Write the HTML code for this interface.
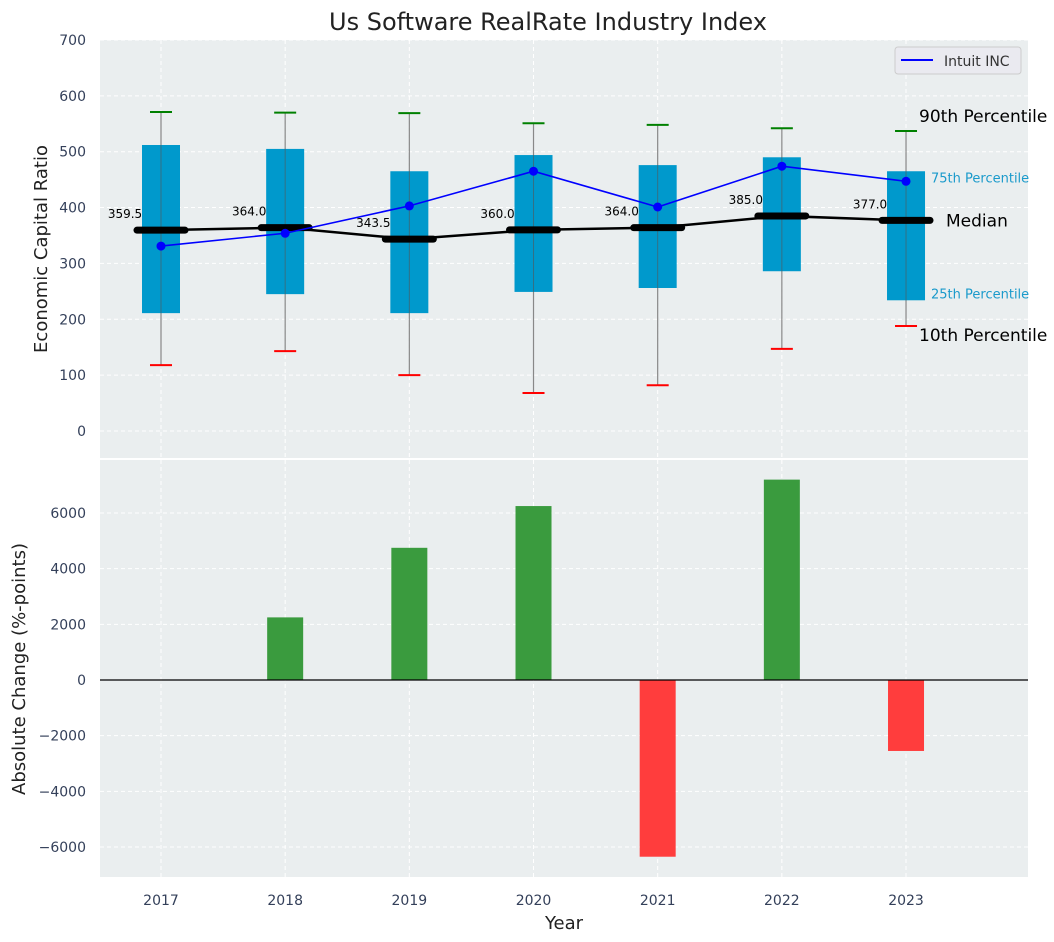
<!DOCTYPE html>
<html><head><meta charset="utf-8"><style>
body{margin:0;background:#fff;}
svg{display:block;font-family:"DejaVu Sans","Liberation Sans",sans-serif;}
</style></head><body>
<svg id="c" width="1054" height="942"></svg>
<script>
const years=[2017,2018,2019,2020,2021,2022,2023];
const p10=[118,143,100,68,82,147,188];
const p25=[211,245,211,249,256,286,234];
const medians=[359.5,364,343.5,360,364,385,377];
const p75=[512,505,465,494,476,490,465];
const p90=[571,570,569,551,548,542,537];
const intuit=[331,354,403,465,401,474,447];
const changes=[0,2250,4750,6250,-6350,7200,-2550];
const topTicks=[0,100,200,300,400,500,600,700];
const botTicks=[-6000,-4000,-2000,0,2000,4000,6000];

const svg=document.getElementById('c');
const NS='http://www.w3.org/2000/svg';
function mk(t,a,p){const e=document.createElementNS(NS,t);for(const k in a)e.setAttribute(k,a[k]);(p||svg).appendChild(e);return e;}
const L=100,R=1028;
const x=v=>161+(v-2017)*124.17;
const yT=v=>431-v*0.5586;
const yB=v=>680-v*0.02783;
const TC='#34405a';

let e=mk('rect',{x:L,y:40,width:R-L,height:418,fill:'#eaeeef'});

e=mk('rect',{x:L,y:460,width:R-L,height:417,fill:'#eaeeef'});


years.forEach(yr=>{
 mk('line',{x1:x(yr),x2:x(yr),y1:40,y2:458,stroke:'#fff','stroke-dasharray':'4,3'});
 mk('line',{x1:x(yr),x2:x(yr),y1:460,y2:877,stroke:'#fff','stroke-dasharray':'4,3'});
 e=mk('text',{x:x(yr),y:905,'text-anchor':'middle','font-size':14,fill:TC});e.textContent=yr;
 
});
topTicks.forEach(t=>{
 mk('line',{x1:L,x2:R,y1:yT(t),y2:yT(t),stroke:'#fff','stroke-dasharray':'4,3'});
 e=mk('text',{x:86,y:yT(t)+5,'text-anchor':'end','font-size':14,fill:TC});e.textContent=t;
 
});
botTicks.forEach(t=>{
 mk('line',{x1:L,x2:R,y1:yB(t),y2:yB(t),stroke:'#fff','stroke-dasharray':'4,3'});
 e=mk('text',{x:86,y:yB(t)+5,'text-anchor':'end','font-size':14,fill:TC});e.textContent=t<0?'\u2212'+(-t):t;
 
});

years.forEach((yr,i)=>{
 const cx=x(yr);
 e=mk('line',{x1:cx,x2:cx,y1:yT(p90[i]),y2:yT(p10[i]),stroke:'#888','stroke-width':1.2});
 
 e=mk('rect',{x:cx-19,y:yT(p75[i]),width:38,height:yT(p25[i])-yT(p75[i]),fill:'#0099cc'});
 
 mk('line',{x1:cx,x2:cx,y1:yT(p75[i]),y2:yT(p25[i]),stroke:'#555','stroke-width':1,opacity:0.6});
 e=mk('line',{x1:cx-11,x2:cx+11,y1:yT(p90[i]),y2:yT(p90[i]),stroke:'green','stroke-width':2});
 
 e=mk('line',{x1:cx-11,x2:cx+11,y1:yT(p10[i]),y2:yT(p10[i]),stroke:'red','stroke-width':2});
 
});
e=mk('polyline',{points:years.map((yr,i)=>x(yr)+','+yT(medians[i])).join(' '),fill:'none',stroke:'#000','stroke-width':2.5});

years.forEach((yr,i)=>{
 e=mk('line',{x1:x(yr)-24,x2:x(yr)+24,y1:yT(medians[i]),y2:yT(medians[i]),stroke:'#000','stroke-width':7,'stroke-linecap':'round'});
 
 e=mk('text',{x:x(yr)-36,y:yT(medians[i])-12,'text-anchor':'middle','font-size':12,fill:'#000'});e.textContent=medians[i].toFixed(1);
 
});
e=mk('polyline',{points:years.map((yr,i)=>x(yr)+','+yT(intuit[i])).join(' '),fill:'none',stroke:'blue','stroke-width':1.6});

years.forEach((yr,i)=>{e=mk('circle',{cx:x(yr),cy:yT(intuit[i]),r:4.5,fill:'blue'});
 });

const lx=x(2023), li=6;
[['90th Percentile',lx+13,yT(p90[li])-9,17,'#000'],['75th Percentile',lx+25,yT(p75[li])+11,13,'#1a9acb'],['Median',lx+40,yT(medians[li])+6,17,'#000'],['25th Percentile',lx+25,yT(p25[li])-2,13,'#1a9acb'],['10th Percentile',lx+13,yT(p10[li])+15,17,'#000']].forEach(a=>{
 e=mk('text',{x:a[1],y:a[2],'font-size':a[3],fill:a[4]});e.textContent=a[0];
 
});

const lg=mk('g',{});

mk('rect',{x:895,y:47,width:126,height:27,rx:3,fill:'#eaeaf0',stroke:'#ccc'},lg);
mk('line',{x1:901,x2:933,y1:60,y2:60,stroke:'blue','stroke-width':2},lg);
e=mk('text',{x:944,y:66,'font-size':14,fill:'#333'},lg);e.textContent='Intuit INC';

years.forEach((yr,i)=>{
 const v=changes[i];if(v===0)return;
 const y0=yB(Math.max(v,0)),y1=yB(Math.min(v,0));
 e=mk('rect',{x:x(yr)-18,y:y0,width:36,height:y1-y0,fill:v>=0?'#3a9b3e':'#ff3d3d'});
 
});
mk('line',{x1:L,x2:R,y1:yB(0),y2:yB(0),stroke:'#000','stroke-width':1.2});

e=mk('text',{x:548,y:30,'text-anchor':'middle','font-size':24,fill:'#222'});e.textContent='Us Software RealRate Industry Index';

e=mk('text',{x:564,y:929,'text-anchor':'middle','font-size':18,fill:'#222'});e.textContent='Year';

e=mk('text',{x:0,y:0,'text-anchor':'middle','font-size':18,fill:'#222',transform:'translate(47,249) rotate(-90)'});e.textContent='Economic Capital Ratio';

e=mk('text',{x:0,y:0,'text-anchor':'middle','font-size':18,fill:'#222',transform:'translate(25,669) rotate(-90)'});e.textContent='Absolute Change (%-points)';

</script>
</body></html>
